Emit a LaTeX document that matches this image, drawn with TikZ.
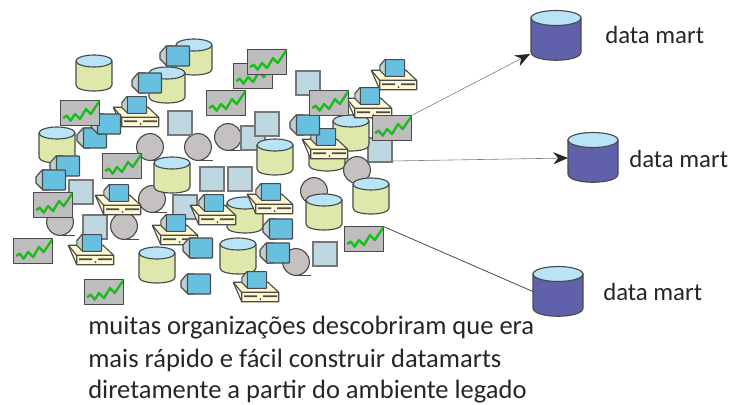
\documentclass[tikz,border=0pt]{standalone}
\usepackage{fontspec}
\setmainfont{Carlito}
\usetikzlibrary{arrows.meta}
\definecolor{edgegrey}{HTML}{4A4A4A}
\definecolor{cylbody}{HTML}{DDE8AA}
\definecolor{cyltop}{HTML}{B9E3F7}
\definecolor{martbody}{HTML}{6060AB}
\definecolor{chartbg}{HTML}{BDBDBD}
\definecolor{screen}{HTML}{68C0E0}
\definecolor{casing}{HTML}{BCD2D2}
\definecolor{tile}{HTML}{BFD7E0}
\definecolor{reel}{HTML}{C5C1C1}
\definecolor{desk}{HTML}{FFF8D0}
\definecolor{trend}{HTML}{00D000}
\definecolor{inkc}{HTML}{262626}
\tikzset{
  x=0.75pt, y=-0.75pt,
  outline/.style={draw=edgegrey, line width=0.85pt, line join=round},
  monitor/.pic={
    \fill[casing, outline] (-5,-10) -- (-12,-10) -- (-18,-3) -- (-18,3) -- (-11,10) -- (-5,10) -- cycle;
    \fill[screen, outline, rounded corners=0.5pt] (-11.5,-10) rectangle (11.5,10);
  },
  database/.pic={
    \fill[cylbody, outline] (-18,-12) -- (-18,12) .. controls (-18,20) and (18,20) .. (18,12) -- (18,-12) -- cycle;
    \fill[cyltop, outline] (0,-12) ellipse [x radius=18, y radius=6];
  },
  martdb/.pic={
    \fill[martbody, outline] (-25,-17) -- (-25,17) .. controls (-25,28) and (25,28) .. (25,17) -- (25,-17) -- cycle;
    \fill[cyltop, outline] (0,-17) ellipse [x radius=25, y radius=7.5];
  },
  chart/.pic={
    \fill[chartbg, outline] (-19.5,-12.5) rectangle (19.5,12.5);
    \draw[edgegrey, line width=1.6pt, line join=round, opacity=0.6]
      (-16.7,5.2) -- (-13.3,2.8) -- (-9.3,7.8) -- (-5,1.2) -- (0,6.2) -- (6,-3.8) -- (10.7,1.2) -- (19,-11);
    \draw[trend, line width=1.3pt, line join=round]
      (-16.7,4.7) -- (-13.3,2.3) -- (-9.3,7.3) -- (-5,0.7) -- (0,5.7) -- (6,-4.3) -- (10.7,0.7) -- (19,-11.5);
    \coordinate (-ne) at (19.5,-12.5);
  },
  tilebox/.pic={
    \fill[tile, draw=edgegrey!75, line width=0.8pt] (-12,-12) rectangle (12,12);
    \coordinate (-e) at (12,11);
  },
  tapereel/.pic={
    \fill[reel, outline] (0,0) circle [radius=13.4];
    \draw[edgegrey, line width=0.7pt] (0,13.4) -- (15,13.4);
  },
  terminal/.pic={
    \fill[desk, outline] (-22.7,-9.7) -- (12,-9.7) -- (22.7,0.3) -- (22.7,9.7) -- (-14.3,9.7) -- cycle;
    \draw[outline] (-22.7,-9.7) -- (-14.3,0.3) -- (22.7,0.3) (-14.3,0.3) -- (-14.3,9.7);
    \fill[edgegrey] (-12,3.4) rectangle (1,5.2) (7,3.4) rectangle (21,5.2);
    \fill[edgegrey] (4.5,7.2) circle [radius=1];
    \begin{scope}[shift={(1,-12)}, scale=0.84]
      \fill[casing, outline] (-5,-10) -- (-12,-10) -- (-18,-3) -- (-18,3) -- (-11,10) -- (-5,10) -- cycle;
      \fill[screen, outline, rounded corners=0.5pt] (-11.5,-10) rectangle (11.5,10);
    \end{scope}
  },
  martlabel/.style={anchor=base west, inner sep=0pt, text=inkc, font=\fontsize{18.6pt}{20pt}\selectfont},
  caption/.style={anchor=base west, inner sep=0pt, text=inkc, font=\fontsize{19.9pt}{22pt}\selectfont},
}
\begin{document}
\begin{tikzpicture}
\useasboundingbox (0,0) rectangle (729,404);
% legacy environment: tape reels and tiles at the back
\pic (tapeA) at (150,147) {tapereel};
\pic (tapeB) at (198,147) {tapereel};
\pic (tapeC) at (228,137) {tapereel};
\pic (tapeD) at (152,199) {tapereel};
\pic (tapeE) at (60,222) {tapereel};
\pic (tapeF) at (124,226) {tapereel};
\pic (tapeG) at (314,191) {tapereel};
\pic (tapeH) at (296,262) {tapereel};
\pic (tileA) at (180,123) {tilebox};
\pic (tileB) at (308,83) {tilebox};
\pic (tileC) at (253,138) {tilebox};
\pic (tileD) at (267,124) {tilebox};
\pic (tileE) at (380,150) {tilebox};
\pic (tileF) at (81,192) {tilebox};
\pic (tileG) at (95,227) {tilebox};
\pic (tileH) at (185,207) {tilebox};
\pic (tileI) at (212,179) {tilebox};
\pic (tileJ) at (240,179) {tilebox};
\pic (tileK) at (325,254) {tilebox};
% databases
\pic (dbA) at (94,73) {database};
\pic (dbB) at (194,57) {database};
\pic (dbC) at (167,85) {database};
\pic (dbD) at (57,145) {database};
\pic (dbE) at (172,175) {database};
\pic (dbF) at (275,157) {database};
\pic (dbH) at (327,153) {database};
\pic (tapeI) at (357,170) {tapereel};
\pic (dbG) at (351,133) {database};
\pic (dbI) at (245,215) {database};
\pic (dbJ) at (324,212) {database};
\pic (dbK) at (371,196) {database};
\pic (dbL) at (238,256) {database};
\pic (dbM) at (157,265) {database};
% desktop terminals
\pic (pcA) at (136,117) {terminal};
\pic (pcB) at (394,80) {terminal};
\pic (pcC) at (369,108) {terminal};
\pic (pcD) at (325,149) {terminal};
\pic (pcE) at (118,205) {terminal};
\pic (pcF) at (91,255) {terminal};
\pic (pcG) at (175,235) {terminal};
\pic (pcH) at (270,204) {terminal};
\pic (pcI) at (256,292) {terminal};
\pic (pcJ) at (213,215) {terminal};
% monitors
\pic (monA) at (178,56) {monitor};
\pic (monB) at (150,83) {monitor};
\pic (monD) at (95,138) {monitor};
\pic (monC) at (109,124) {monitor};
\pic (monE) at (68,166) {monitor};
\pic (monF) at (54,180) {monitor};
\pic (monG) at (308,125) {monitor};
\pic (monH) at (281,229) {monitor};
\pic (monI) at (278,253) {monitor};
\pic (monJ) at (201,248) {monitor};
\pic (monK) at (199,284) {monitor};
% charts
\pic (chartA) at (80,113) {chart};
\pic (chartB) at (122,166) {chart};
\pic (chartC) at (53,205) {chart};
\pic (chartD) at (33,251) {chart};
\pic (chartE) at (104,292) {chart};
\pic (chartF) at (253,76) {chart};
\pic (chartG) at (267,62) {chart};
\pic (chartH) at (226,103) {chart};
\pic (chartI) at (329,103) {chart};
\pic (chartJ) at (392,128) {chart};
\pic (chartK) at (364,239) {chart};
% data marts and their feeds
\coordinate (tipA) at (530,54);
\coordinate (tipB) at (568,158);
\coordinate (tipC) at (534,292);
\draw[edgegrey!70, line width=0.45pt, -{Stealth[length=11pt,width=9pt,inkc]}] (chartJ-ne) -- (tipA);
\draw[edgegrey!70, line width=0.45pt, -{Stealth[length=11pt,width=9pt,inkc]}] (tileE-e) -- (tipB);
\draw[edgegrey, line width=0.6pt] (chartK-ne) -- (tipC);
\pic (martA) at (556,35) {martdb};
\pic (martB) at (593,157) {martdb};
\pic (martC) at (558,291) {martdb};
\node[martlabel] (labA) at (605,43) {data mart};
\node[martlabel] (labB) at (629,167) {data mart};
\node[martlabel] (labC) at (603,300) {data mart};
\node[caption] (capA) at (88,334) {muitas organizações descobriram que era};
\node[caption] (capB) at (88,367) {mais rápido e fácil construir datamarts};
\node[caption] (capC) at (88,398) {diretamente a partir do ambiente legado};
\end{tikzpicture}
\end{document}
